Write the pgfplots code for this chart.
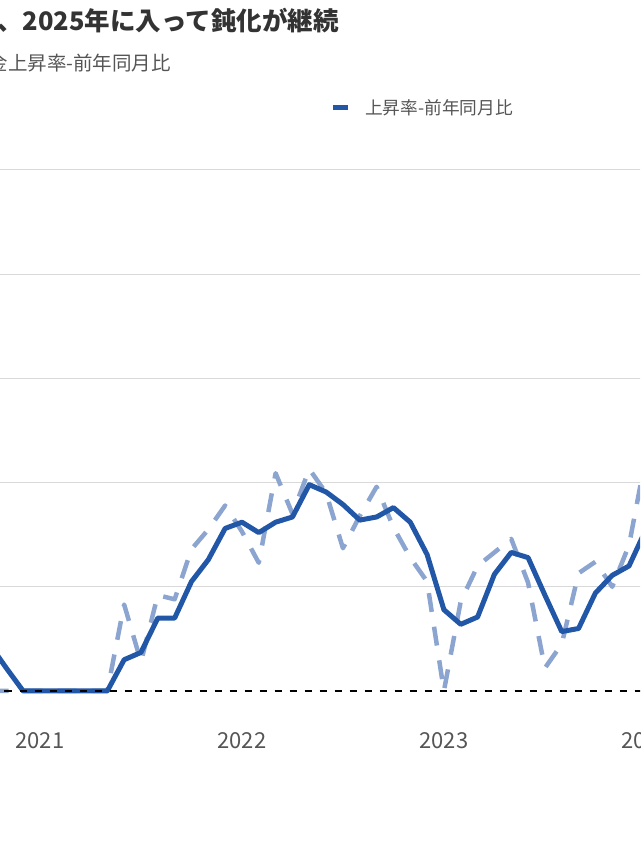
\documentclass[border=0pt]{standalone}
\usepackage{fontspec}
\setmainfont{Noto Sans CJK JP}
\usepackage{pgfplots}
\usepackage{pgfplotstable}
\pgfplotsset{compat=1.18}
\definecolor{solidblue}{RGB}{33,87,166}
\definecolor{dashblue}{RGB}{140,165,208}
\definecolor{titlegray}{RGB}{51,51,51}
\definecolor{subgray}{RGB}{85,85,85}
\definecolor{gridgray}{RGB}{217,217,217}
\pgfplotstableread{
m   raw   avg
-3  0.00  0.45
-2  0.00  0.22
-1  0.00  0.00
0   0.00  0.00
1   0.00  0.00
2   0.00  0.00
3   0.00  0.00
4   0.00  0.00
5   0.83  0.30
6   0.28  0.37
7   0.92  0.70
8   0.88  0.70
9   1.36  1.05
10  1.55  1.26
11  1.78  1.56
12  1.53  1.62
13  1.23  1.52
14  2.09  1.62
15  1.70  1.67
16  2.13  1.98
17  1.90  1.91
18  1.37  1.79
19  1.68  1.64
20  1.96  1.67
21  1.57  1.76
22  1.28  1.62
23  1.05  1.31
24  0.00  0.78
25  0.86  0.64
26  1.20  0.71
27  1.33  1.12
28  1.46  1.33
29  1.04  1.28
30  0.22  0.92
31  0.45  0.57
32  1.13  0.60
33  1.24  0.94
34  1.00  1.11
35  1.40  1.20
36  2.25  1.55
}\wagedata
\begin{document}
\begin{tikzpicture}[x=1pt,y=1pt]
\useasboundingbox (0,0) rectangle (640,853);
\clip (0,0) rectangle (640,853);
\node[anchor=west, inner sep=0, font=\fontsize{25.5}{30}\selectfont\bfseries, text=titlegray] at (-3,832) {、2025年に入って鈍化が継続};
\node[anchor=west, inner sep=0, font=\fontsize{19.5}{23}\selectfont, text=subgray] at (-11.5,790) {金上昇率-前年同月比};
\draw[solidblue, line width=5pt] (333,745) -- (348,745);
\node[anchor=west, inner sep=0, font=\fontsize{17.7}{21}\selectfont, text=subgray] at (365,745) {上昇率-前年同月比};
\begin{axis}[
  at={(-10.5pt,162pt)}, anchor=south west,
  scale only axis, width=673.2pt, height=521pt,
  xmin=-3, xmax=37, ymin=0, ymax=5,
  clip=false,
  axis line style={draw=none},
  major tick length=0pt,
  xtick={0,12,24,36}, xticklabels={2021,2022,2023,2024},
  ytick={1,2,3,4,5}, yticklabels={},
  ymajorgrids, grid style={gridgray, line width=1pt},
  xticklabel style={anchor=base, yshift=-58pt, font=\fontsize{22}{26}\selectfont, text=subgray},
]
\addplot[dashblue, line width=4.5pt, dash pattern=on 19pt off 15pt, line join=round, forget plot] table[x=m, y=raw] {\wagedata};
\addplot[solidblue, line width=5pt, line join=round, forget plot] table[x=m, y=avg] {\wagedata};
\addplot[black, line width=2.5pt, dash pattern=on 7pt off 8pt, forget plot] coordinates {(-3,0) (37,0)};
\end{axis}
\end{tikzpicture}
\end{document}
